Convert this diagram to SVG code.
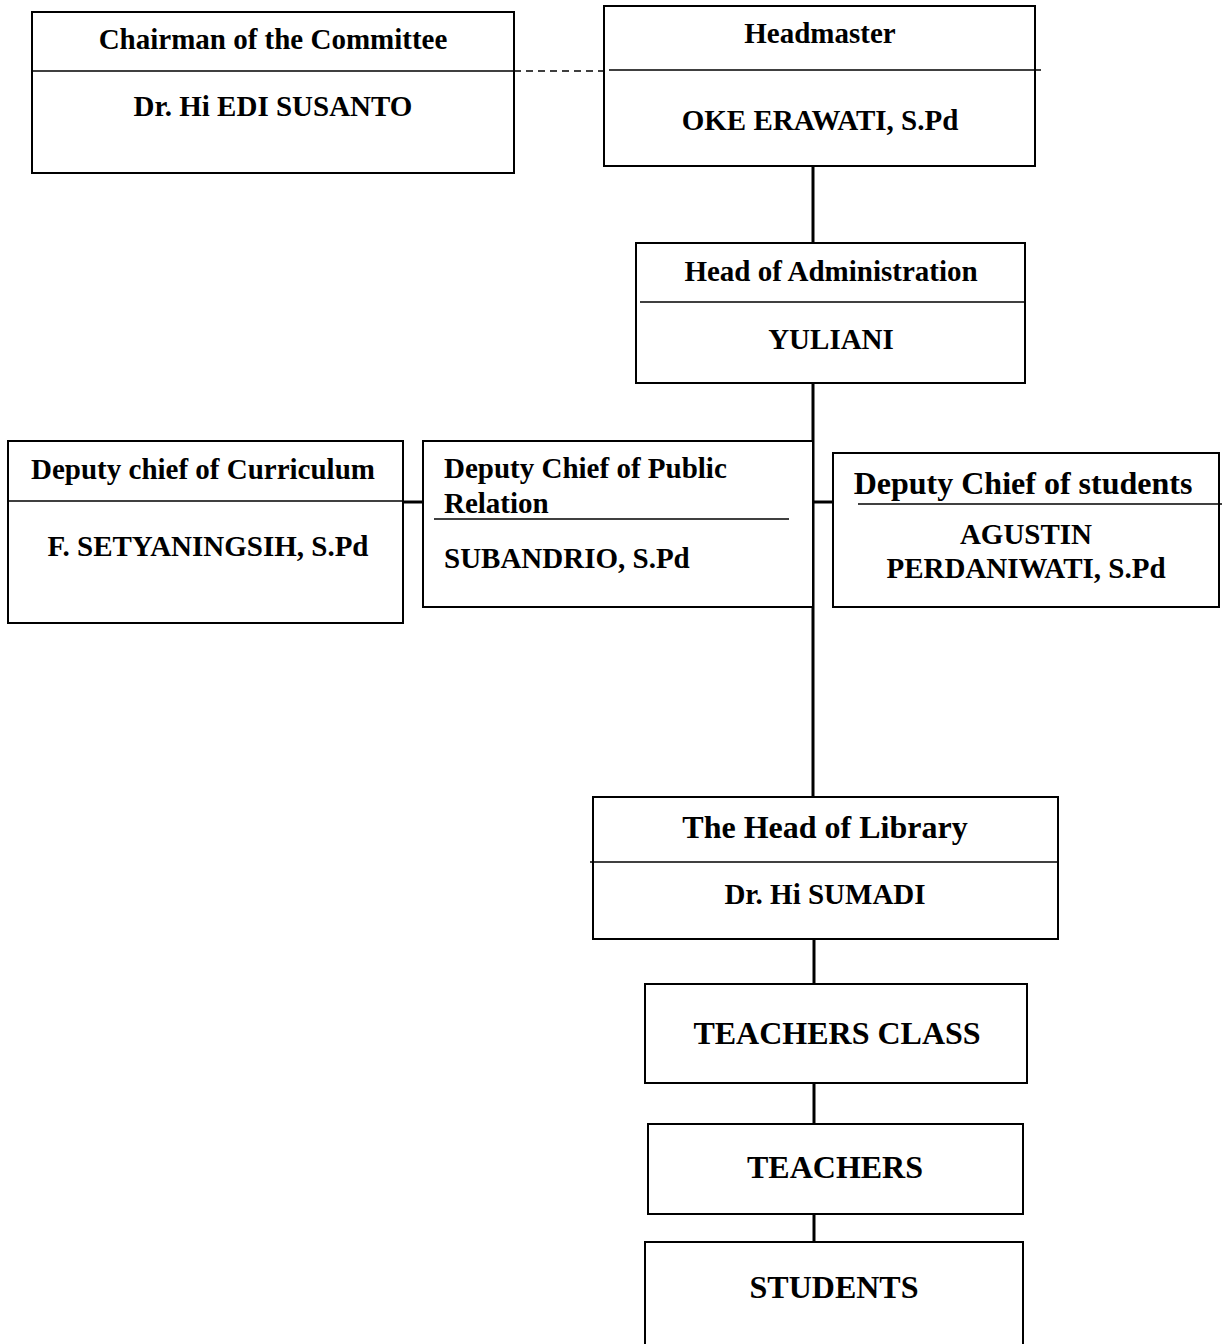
<svg xmlns="http://www.w3.org/2000/svg" width="1225" height="1344" viewBox="0 0 1225 1344">
<style>
.box{fill:#fff;stroke:#000;stroke-width:2}
.div{stroke:#000;stroke-width:1.5}
.t{font-family:"Liberation Serif","Times New Roman",serif;font-weight:bold;font-size:29px;fill:#000}
.c{text-anchor:middle}
.big{font-size:32px}
.conn{stroke:#000;stroke-width:3;fill:none}
</style>
<rect width="1225" height="1344" fill="#fff"/>
<g id="connectors">
<line class="conn" x1="813" y1="157" x2="813" y2="243"/>
<line class="conn" x1="813" y1="383" x2="813" y2="797"/>
<line class="conn" x1="403" y1="502" x2="423" y2="502"/>
<line class="conn" x1="813" y1="502" x2="833" y2="502"/>
<line class="conn" x1="814" y1="939" x2="814" y2="984"/>
<line class="conn" x1="814" y1="1083" x2="814" y2="1124"/>
<line class="conn" x1="814" y1="1214" x2="814" y2="1242" stroke-width="5"/>
<line stroke="#000" stroke-width="1.5" stroke-dasharray="7,5" x1="514" y1="71" x2="605" y2="71"/>
</g>
<g id="chairman">
<rect class="box" x="32" y="12" width="482" height="161"/>
<line class="div" x1="32" y1="71" x2="514" y2="71"/>
<text class="t c" x="273" y="49">Chairman of the Committee</text>
<text class="t c" x="273" y="116">Dr. Hi EDI SUSANTO</text>
</g>
<g id="headmaster">
<rect class="box" x="604" y="6" width="431" height="160"/>
<line class="div" x1="609" y1="70" x2="1041" y2="70"/>
<text class="t c" x="820" y="43">Headmaster</text>
<text class="t c" x="820" y="130">OKE ERAWATI, S.Pd</text>
</g>
<g id="head-admin">
<rect class="box" x="636" y="243" width="389" height="140"/>
<line class="div" x1="640" y1="302" x2="1025" y2="302"/>
<text class="t c" x="831" y="281">Head of Administration</text>
<text class="t c" x="831" y="349">YULIANI</text>
</g>
<g id="deputy-curriculum">
<rect class="box" x="8" y="441" width="395" height="182"/>
<line class="div" x1="8" y1="501" x2="403" y2="501"/>
<text class="t c" x="203" y="479">Deputy chief of Curriculum</text>
<text class="t c" x="208" y="556">F. SETYANINGSIH, S.Pd</text>
</g>
<g id="deputy-public">
<rect class="box" x="423" y="441" width="390" height="166"/>
<line class="div" x1="434" y1="519" x2="789" y2="519"/>
<text class="t" x="444" y="478">Deputy Chief of Public</text>
<text class="t" x="444" y="513">Relation</text>
<text class="t" x="444" y="568">SUBANDRIO, S.Pd</text>
</g>
<g id="deputy-students">
<rect class="box" x="833" y="453" width="386" height="154"/>
<line class="div" x1="858" y1="504" x2="1222" y2="504"/>
<text class="t c big" x="1023" y="494">Deputy Chief of students</text>
<text class="t c" x="1026" y="544">AGUSTIN</text>
<text class="t c" x="1026" y="578">PERDANIWATI, S.Pd</text>
</g>
<g id="library">
<rect class="box" x="593" y="797" width="465" height="142"/>
<line class="div" x1="590" y1="862" x2="1058" y2="862"/>
<text class="t c big" x="825" y="838">The Head of Library</text>
<text class="t c" x="825" y="904">Dr. Hi SUMADI</text>
</g>
<g id="teachers-class">
<rect class="box" x="645" y="984" width="382" height="99"/>
<text class="t c big" x="837" y="1044">TEACHERS CLASS</text>
</g>
<g id="teachers">
<rect class="box" x="648" y="1124" width="375" height="90"/>
<text class="t c big" x="835" y="1178">TEACHERS</text>
</g>
<g id="students">
<rect class="box" x="645" y="1242" width="378" height="110"/>
<text class="t c big" x="834" y="1298">STUDENTS</text>
</g>
</svg>
